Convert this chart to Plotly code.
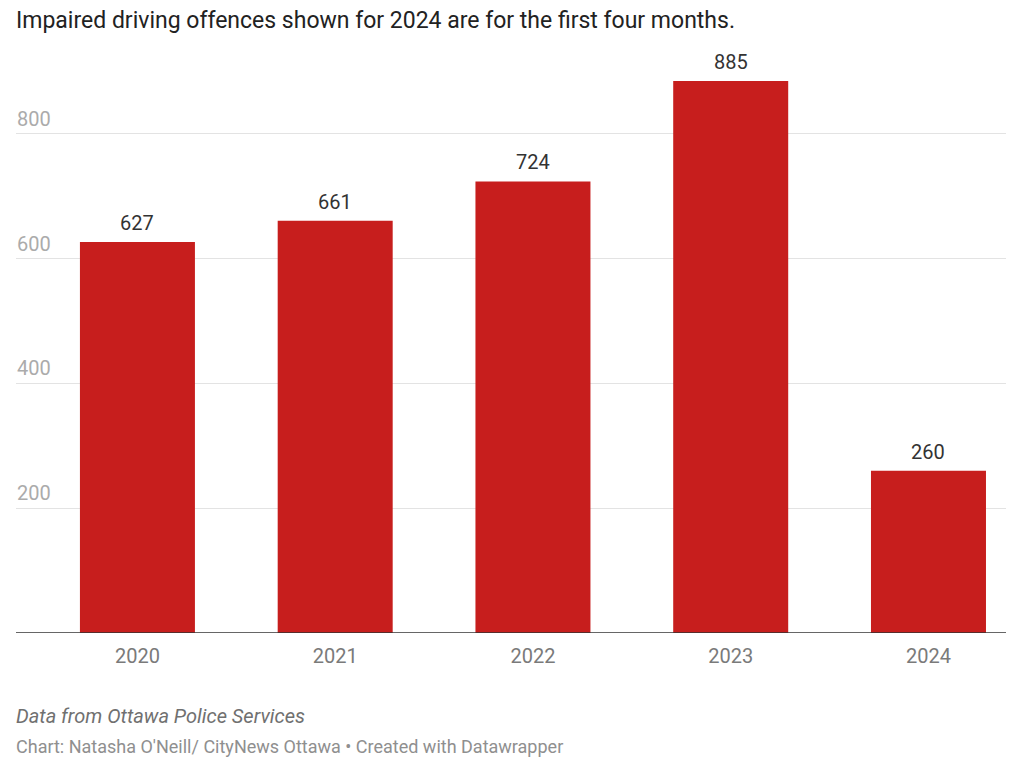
import plotly.graph_objects as go

years = ["2020", "2021", "2022", "2023", "2024"]
offences = [627, 661, 724, 885, 260]
y_ticks = [200, 400, 600, 800]

title_text = "Impaired driving offences shown for 2024 are for the first four months."
source_text = "Data from Ottawa Police Services"
credit_text = "Chart: Natasha O'Neill/ CityNews Ottawa • Created with Datawrapper"

FONT = "Roboto"
# page body has an 8px margin; figure sits at (8, 8)
OFF = 8
W, H = 1024 - 2 * OFF, 774 - 2 * OFF
plot_top, plot_bottom, plot_left, plot_right = 60, 633, 16, 1006
ml = plot_left - OFF
mr = W - (plot_right - OFF)
mt = plot_top - OFF
mb = H - (plot_bottom - OFF)
plot_h = plot_bottom - plot_top

def paper_y(px):
    return (plot_bottom - px) / plot_h

fig = go.Figure()
fig.add_trace(go.Bar(
    x=years, y=offences,
    marker=dict(color="#c71e1d", line=dict(width=0)),
    hoverinfo="skip",
))

annotations = []
for i, v in enumerate(offences):
    annotations.append(dict(
        x=i, xref="x", y=v, yref="y", text=str(v), showarrow=False,
        xanchor="center", yanchor="bottom", yshift=5,
        font=dict(family=FONT, size=20, color="#333333"),
    ))
for t in y_ticks:
    annotations.append(dict(
        x=0, xref="paper", y=t, yref="y", text=str(t), showarrow=False,
        xanchor="left", yanchor="bottom", yshift=1, xshift=-1,
        font=dict(family=FONT, size=20, color="#ababab"),
    ))
annotations.append(dict(
    x=0, xref="paper", y=paper_y(20), yref="paper", text=title_text, showarrow=False,
    xanchor="left", yanchor="middle", xshift=-2,
    font=dict(family=FONT, size=23, color="#222222"),
))
annotations.append(dict(
    x=0, xref="paper", y=paper_y(716), yref="paper", text="<i>" + source_text + "</i>", showarrow=False,
    xanchor="left", yanchor="middle", xshift=-2,
    font=dict(family=FONT, size=20, color="#707070"),
))
annotations.append(dict(
    x=0, xref="paper", y=paper_y(746), yref="paper", text=credit_text, showarrow=False,
    xanchor="left", yanchor="middle", xshift=-2,
    font=dict(family=FONT, size=18, color="#8f8f8f"),
))

fig.update_layout(
    width=W, height=H,
    margin=dict(l=ml, r=mr, t=mt, b=mb),
    paper_bgcolor="white", plot_bgcolor="white",
    showlegend=False,
    bargap=0.4185,
    font=dict(family=FONT),
    annotations=annotations,
    xaxis=dict(
        type="category", range=[-0.614, 4.392],
        showgrid=False, zeroline=False, showline=False,
        ticks="outside", ticklen=5, tickcolor="rgba(0,0,0,0)",
        tickfont=dict(family=FONT, size=20, color="#7a7a7a"),
        fixedrange=True,
    ),
    yaxis=dict(
        range=[0, 918.6], tickvals=y_ticks, showticklabels=False,
        showgrid=True, gridcolor="#e3e3e3", gridwidth=1,
        zeroline=False, showline=False, fixedrange=True,
    ),
    shapes=[dict(type="line", xref="paper", yref="y", x0=0, x1=1, y0=0, y1=0,
                 line=dict(color="#333333", width=1.5), layer="above")],
)

fig.write_html("out.html")
